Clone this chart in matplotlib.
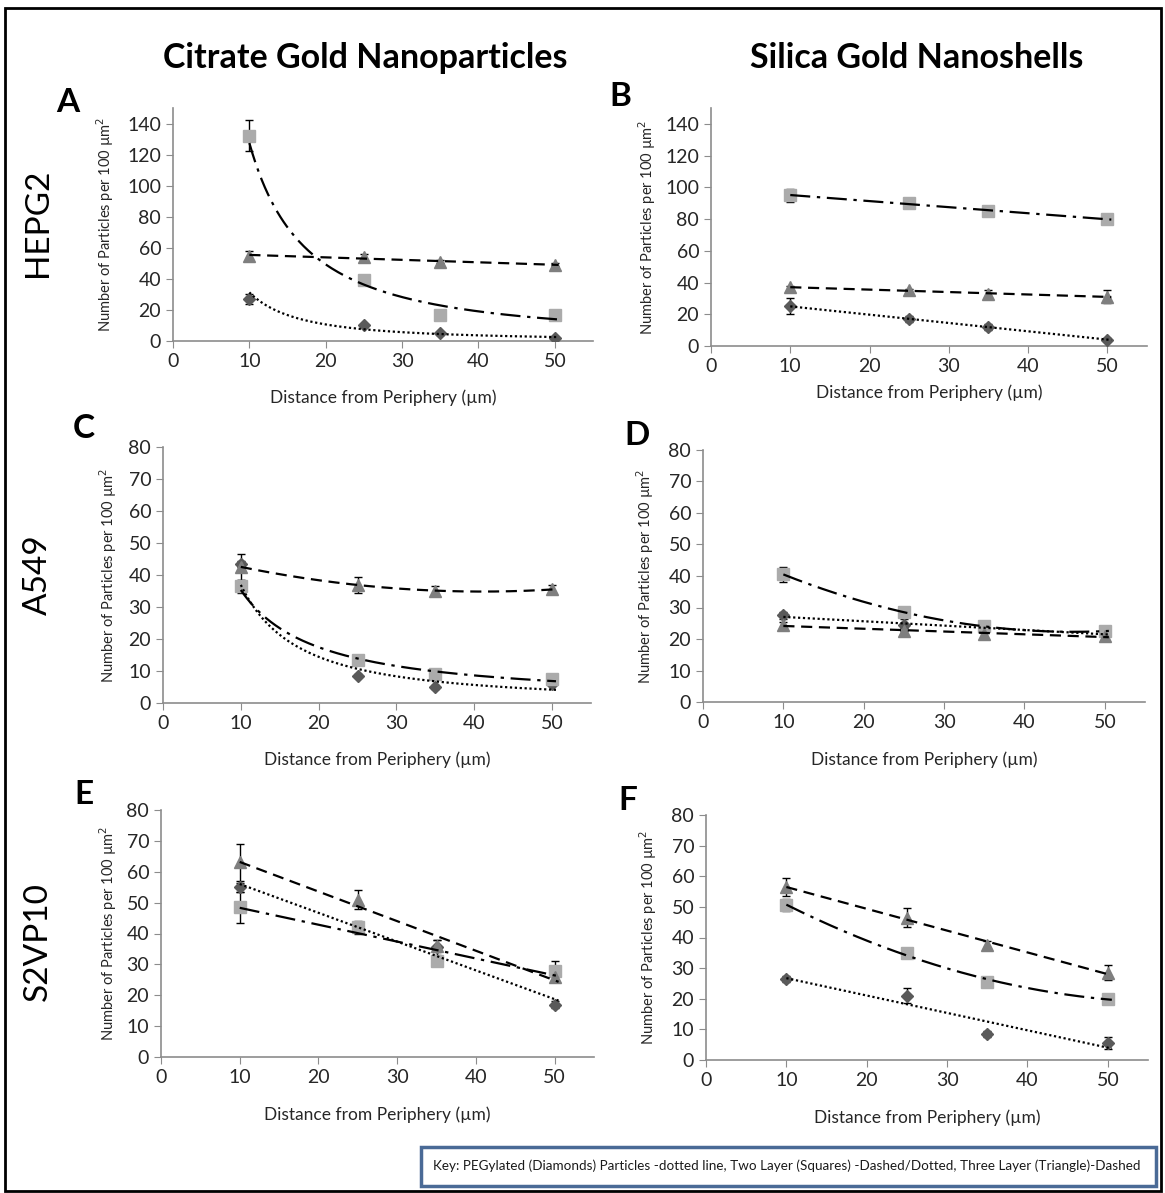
import matplotlib.pyplot as plt
import numpy as np
from matplotlib.patches import Rectangle

# distances from periphery (um), shared by every panel
dist = [10, 25, 35, 50]

# A - citrate gold, HEPG2
a_dia = [27, 10, 5, 2]
a_dia_err = [3, 1, 1, 0.5]
a_sq = [132, 39, 17, 17]
a_sq_err = [10, 2, 1, 1]
a_tri = [55, 54, 51, 49]
a_tri_err = [3, 2, 1, 1]

# B - silica nanoshells, HEPG2
b_dia = [25, 17, 12, 4]
b_dia_err = [5, 2, 2, 1]
b_sq = [95, 90, 85, 80]
b_sq_err = [4, 1, 1, 1]
b_tri = [37, 35, 33, 31]
b_tri_err = [1, 1, 2, 4]

# C - citrate gold, A549
c_dia = [43.5, 8.5, 5, 6]
c_dia_err = [1, 0.5, 0.5, 0.5]
c_sq = [36.5, 13.5, 9, 7.5]
c_sq_err = [2, 1, 1, 1]
c_tri = [42.5, 37, 35, 35.5]
c_tri_err = [4, 2.5, 1.5, 1.5]

# D - silica nanoshells, A549
d_dia = [27.5, 24.5, 23, 22]
d_dia_err = [1, 2, 1, 1]
d_sq = [40.5, 28.5, 24, 22.5]
d_sq_err = [2.5, 1, 1, 1]
d_tri = [24.5, 22.5, 21.5, 21]
d_tri_err = [1, 1, 1, 1]

# E - citrate gold, S2VP10
e_dia = [55, 42, 35.5, 17]
e_dia_err = [1.5, 1, 2.5, 1]
e_sq = [48.5, 42, 31, 28]
e_sq_err = [5, 2, 1, 3]
e_tri = [63, 51, 36, 26]
e_tri_err = [6, 3, 2, 1.5]

# F - silica nanoshells, S2VP10
f_dia = [26.5, 21, 8.5, 5.5]
f_dia_err = [1, 2.5, 1, 2]
f_sq = [50.5, 35, 25.5, 20]
f_sq_err = [2, 1, 1.5, 1]
f_tri = [56.5, 46.5, 37.5, 28.5]
f_tri_err = [3, 3, 1.5, 2.5]

col_titles = ['Citrate Gold Nanoparticles', 'Silica Gold Nanoshells']
row_titles = ['HEPG2', 'A549', 'S2VP10']
key_text = ('Key: PEGylated (Diamonds) Particles -dotted line, Two Layer (Squares) '
            '-Dashed/Dotted, Three Layer (Triangle)-Dashed')

plt.rcParams['font.family'] = ['Lato', 'DejaVu Sans']

W, H = 1165, 1193
fig = plt.figure(figsize=(W / 100, H / 100), dpi=100)


def fit_curve(xs, ys, kind):
    xs = np.asarray(xs, float)
    ys = np.asarray(ys, float)
    xx = np.linspace(10, 50.5, 200)
    if kind == 'lin':
        return xx, np.polyval(np.polyfit(xs, ys, 1), xx)
    if kind == 'poly2':
        return xx, np.polyval(np.polyfit(xs, ys, 2), xx)
    # power trend
    k, b = np.polyfit(np.log(xs), np.log(ys), 1)
    return xx, np.exp(b) * xx ** k


def px_axes(l, b, r, t):
    return fig.add_axes([l / W, 1 - b / H, (r - l) / W, (b - t) / H])


# (left, bottom, right, top) in pixels, ylim, ylabel gap, xlabel gap, series + fit kinds
panels = [
    ('A', (173, 341, 593, 108), 150, 20, 68, 57,
     [(a_dia, a_dia_err, 'pow'), (a_sq, a_sq_err, 'pow'), (a_tri, a_tri_err, 'lin')]),
    ('B', (711, 346, 1147, 108), 150, 20, 64, 47,
     [(b_dia, b_dia_err, 'lin'), (b_sq, b_sq_err, 'lin'), (b_tri, b_tri_err, 'lin')]),
    ('C', (163, 703, 591, 447), 80, 10, 55, 57,
     [(c_dia, c_dia_err, 'pow'), (c_sq, c_sq_err, 'pow'), (c_tri, c_tri_err, 'poly2')]),
    ('D', (703, 702, 1145, 450), 80, 10, 58, 58,
     [(d_dia, d_dia_err, 'lin'), (d_sq, d_sq_err, 'poly2'), (d_tri, d_tri_err, 'lin')]),
    ('E', (161, 1057, 594, 810), 80, 10, 53, 58,
     [(e_dia, e_dia_err, 'lin'), (e_sq, e_sq_err, 'lin'), (e_tri, e_tri_err, 'lin')]),
    ('F', (706, 1060, 1148, 815), 80, 10, 58, 58,
     [(f_dia, f_dia_err, 'lin'), (f_sq, f_sq_err, 'poly2'), (f_tri, f_tri_err, 'lin')]),
]

# marker + colour + trend style for diamonds, squares, triangles
styles = [
    dict(marker='D', ms=6, color='#5a5a5a', ls=(0, (1, 1.2))),
    dict(marker='s', ms=8.5, color='#ababab', ls=(0, (9, 3, 1.5, 3))),
    dict(marker='^', ms=9, color='#7f7f7f', ls=(0, (5, 3))),
]
axis_grey = '#8c8c8c'

for name, rect, ymax, ystep, ygap, xgap, series in panels:
    ax = px_axes(*rect)
    for (vals, errs, kind), st in zip(series, styles):
        ax.errorbar(dist, vals, yerr=errs, fmt=st['marker'], ms=st['ms'],
                    color=st['color'], mec=st['color'], ecolor='black',
                    elinewidth=1, capsize=3, capthick=1, zorder=3)
        xx, yy = fit_curve(dist, vals, kind)
        ax.plot(xx, yy, color='black', lw=1.6, ls=st['ls'], zorder=4)
    ax.set_xlim(0, 55)
    ax.set_ylim(0, ymax)
    ax.set_xticks(range(0, 51, 10))
    ax.set_yticks(range(0, ymax if ymax % ystep else ymax + 1, ystep))
    for s in ['top', 'right']:
        ax.spines[s].set_visible(False)
    for s in ['left', 'bottom']:
        ax.spines[s].set_color(axis_grey)
        ax.spines[s].set_linewidth(1.2)
    ax.tick_params(direction='out', length=5, color=axis_grey, labelsize=14,
                   labelcolor='#262626')
    ax.set_ylabel('Number of Particles per 100 µm$^2$', fontsize=10.5,
                  color='#262626', va='center')
    ax.yaxis.set_label_coords(-ygap / (rect[2] - rect[0]), 0.5)
    ax.set_xlabel('Distance from Periphery (µm)', fontsize=12.5,
                  color='#262626', va='center')
    ax.xaxis.set_label_coords(0.5, -xgap / (rect[1] - rect[3]))

# panel letters
letter_pos = {'A': (68, 103), 'B': (620, 97), 'C': (84, 428),
              'D': (637, 436), 'E': (84, 795), 'F': (628, 800)}
for name, (lx, ly) in letter_pos.items():
    fig.text(lx / W, 1 - ly / H, name, fontsize=24, fontweight='bold',
             ha='center', va='center')

# column and row headings
for title, cx in zip(col_titles, [365, 917]):
    fig.text(cx / W, 1 - 58 / H, title, fontsize=24.5, fontweight='bold',
             ha='center', va='center')
for title, cy in zip(row_titles, [223, 575, 942]):
    fig.text(38 / W, 1 - cy / H, title, fontsize=24, rotation=90,
             ha='center', va='center')

# outer frame and key box
fig.patches.append(Rectangle((5 / W, 1 - 1191 / H), 1156 / W, 1183 / H,
                             transform=fig.transFigure, fill=False,
                             edgecolor='black', lw=2))
fig.patches.append(Rectangle((421 / W, 1 - 1186 / H), 735 / W, 39 / H,
                             transform=fig.transFigure, fill=False,
                             edgecolor='#4a6a96', lw=2.5))
fig.text(787 / W, 1 - 1166 / H, key_text, fontsize=9.7, ha='center',
         va='center', color='#1a1a1a')

fig.savefig('out.png', dpi=100)
